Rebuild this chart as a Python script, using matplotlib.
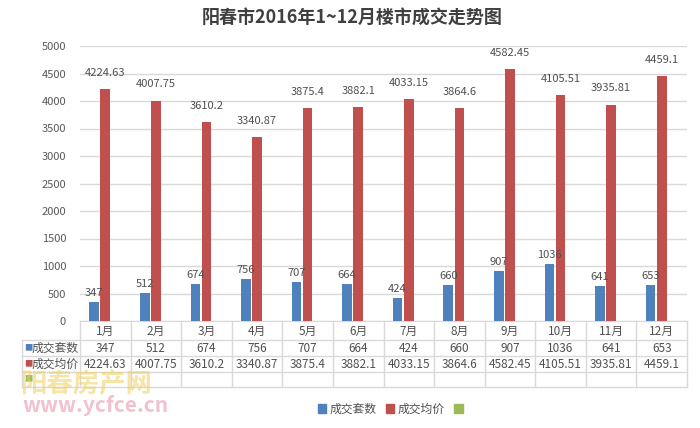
import matplotlib.pyplot as plt
import matplotlib.transforms as mtransforms
from matplotlib.patches import Patch
import numpy as np

plt.rcParams['font.family'] = ['Noto Sans CJK SC', 'DejaVu Sans']

months = ['1月', '2月', '3月', '4月', '5月', '6月', '7月', '8月', '9月', '10月', '11月', '12月']
deals = [347, 512, 674, 756, 707, 664, 424, 660, 907, 1036, 641, 653]
prices = [4224.63, 4007.75, 3610.2, 3340.87, 3875.4, 3882.1, 4033.15, 3864.6, 4582.45, 4105.51, 3935.81, 4459.1]
deal_text = ['347', '512', '674', '756', '707', '664', '424', '660', '907', '1036', '641', '653']
price_text = ['4224.63', '4007.75', '3610.2', '3340.87', '3875.4', '3882.1', '4033.15', '3864.6',
              '4582.45', '4105.51', '3935.81', '4459.1']
series_names = ['成交套数', '成交均价', '']

blue = '#4f81bd'
red = '#c0504d'
green = '#9bbb59'
grid_c = '#d9d9d9'
txt_c = '#505050'

W, H = 700, 428
fig = plt.figure(figsize=(7, 4.28), dpi=100)


def fx(x):
    return x / W


def fy(y):
    return 1 - y / H


# plot area in pixels
left, right, top, bottom = 80, 687, 46, 321
ax = fig.add_axes([fx(left), fy(bottom), fx(right - left), fy(top) - fy(bottom)])

x = np.arange(len(months))
w = 0.19
ax.bar(x - 0.22, deals, width=w, color=blue, zorder=3)
ax.bar(x, prices, width=w, color=red, zorder=3)

for i in range(len(months)):
    ax.annotate(deal_text[i], (x[i] - 0.22, deals[i]), xytext=(0, 3), textcoords='offset points',
                ha='center', va='bottom', fontsize=8, color=txt_c)
    ax.annotate(price_text[i], (x[i], prices[i]), xytext=(0, 8), textcoords='offset points',
                ha='center', va='bottom', fontsize=8, color=txt_c)

ax.set_xlim(-0.5, len(months) - 0.5)
ax.set_ylim(0, 5000)
ax.set_yticks(np.arange(0, 5001, 500))
ax.tick_params(axis='y', length=0, labelsize=8, labelcolor='#595959', pad=10)
ax.set_xticks([])
ax.grid(axis='y', color=grid_c, linewidth=1, zorder=0)
for s in ['top', 'right', 'left']:
    ax.spines[s].set_visible(False)
ax.spines['bottom'].set_color(grid_c)

# data table under the axis
tr = mtransforms.blended_transform_factory(ax.transData, fig.transFigure)
rows_y = [321, 340, 356, 372, 387]
for yy in rows_y[1:]:
    fig.add_artist(plt.Line2D([fx(22), fx(right)], [fy(yy), fy(yy)], color=grid_c, lw=1))
for i in range(len(months) + 1):
    fig.add_artist(plt.Line2D([i - 0.5, i - 0.5], [fy(rows_y[0]), fy(rows_y[-1])],
                              color=grid_c, lw=1, transform=tr))
fig.add_artist(plt.Line2D([fx(22), fx(22)], [fy(rows_y[1]), fy(rows_y[-1])], color=grid_c, lw=1))

for i in range(len(months)):
    fig.text(x[i], fy(331), months[i], transform=tr, ha='center', va='center', fontsize=8.5, color=txt_c)
    fig.text(x[i], fy(348), deal_text[i], transform=tr, ha='center', va='center', fontsize=8.5, color=txt_c)
    fig.text(x[i], fy(364), price_text[i], transform=tr, ha='center', va='center', fontsize=8.5, color=txt_c)

fig.text(fx(24), fy(348), '■', ha='left', va='center', fontsize=6, color=blue)
fig.text(fx(32), fy(348), series_names[0], ha='left', va='center', fontsize=8.5, color=txt_c)
fig.text(fx(24), fy(364), '■', ha='left', va='center', fontsize=6, color=red)
fig.text(fx(32), fy(364), series_names[1], ha='left', va='center', fontsize=8.5, color=txt_c)
fig.text(fx(24), fy(379), '■', ha='left', va='center', fontsize=6, color=green)

# watermark
fig.text(fx(20), fy(384), '阳春房产网', ha='left', va='center', fontsize=19, fontweight='bold',
         color='#f0d060', alpha=0.55)
fig.text(fx(22), fy(406), 'www.ycfce.cn', ha='left', va='center', fontsize=15, fontweight='bold',
         color='#e07890', alpha=0.45)

handles = [Patch(color=blue), Patch(color=red), Patch(color=green)]
fig.legend(handles, series_names, loc='center', bbox_to_anchor=(fx(392), fy(409)), ncol=3,
           frameon=False, fontsize=8.5, handlelength=0.7, handleheight=0.7, handletextpad=0.3,
           columnspacing=0.8, labelcolor=txt_c)

fig.text(fx(352), fy(18), '阳春市2016年1~12月楼市成交走势图', ha='center', va='center',
         fontsize=13, fontweight='bold', color='#404040')

fig.savefig('out.png', dpi=100)
